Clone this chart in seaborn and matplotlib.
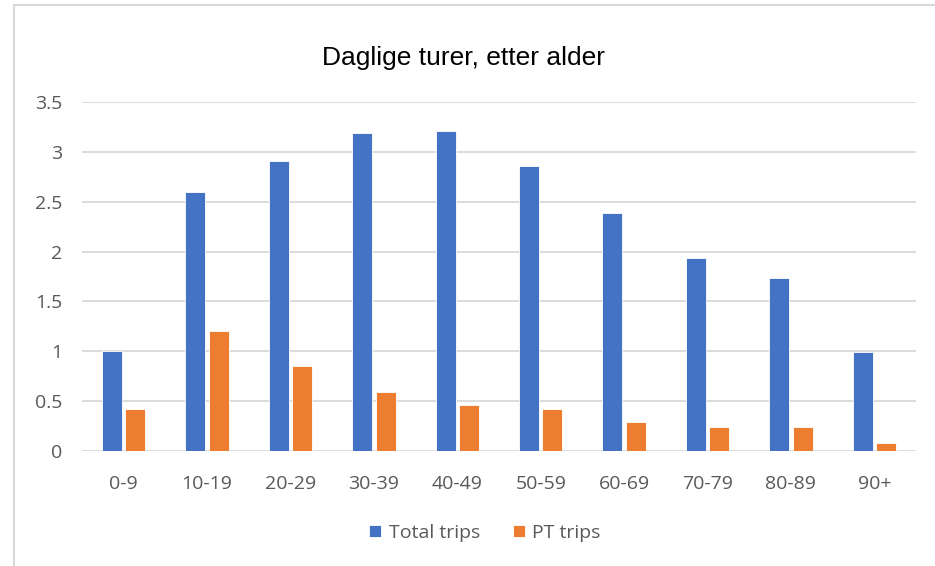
# Import Libraries
import pandas as pd
import matplotlib.pyplot as plt
import matplotlib.patches as mpatches
from matplotlib.ticker import FuncFormatter
import seaborn as sns

# Chart data
age_groups = ["0-9", "10-19", "20-29", "30-39", "40-49",
              "50-59", "60-69", "70-79", "80-89", "90+"]
total_trips = [1.0, 2.6, 2.91, 3.19, 3.21, 2.86, 2.39, 1.94, 1.73, 0.99]
pt_trips = [0.42, 1.2, 0.85, 0.59, 0.46, 0.42, 0.29, 0.24, 0.24, 0.08]
series_names = ["Total trips", "PT trips"]
colors = ["#4472C4", "#ED7D31"]

# Long format table for seaborn
df = pd.DataFrame({
    "age": age_groups * 2,
    "trips": total_trips + pt_trips,
    "series": [series_names[0]] * len(age_groups) + [series_names[1]] * len(age_groups),
})

sns.set_style("white")
plt.rcParams["font.family"] = ["Open Sans", "DejaVu Sans"]

fig = plt.figure(figsize=(9.35, 5.66), dpi=100)
ax = fig.add_axes([82 / 935, 1 - 451 / 566, (916 - 82) / 935, (451 - 102) / 566])

sns.barplot(
    data=df,
    x="age",
    y="trips",
    hue="series",
    palette=colors,
    saturation=1,
    width=0.56,
    gap=0.15,
    edgecolor="white",
    linewidth=0.6,
    ax=ax,
)

# Axes styling
ax.set_ylim(0, 3.5)
ax.set_yticks([0, 0.5, 1, 1.5, 2, 2.5, 3, 3.5])
ax.yaxis.set_major_formatter(FuncFormatter(lambda v, p: f"{v:g}"))
ax.grid(axis="y", color="#D9D9D9", linewidth=1.3)
ax.set_axisbelow(True)
for s in ax.spines.values():
    s.set_visible(False)
ax.set_xlabel("")
ax.set_ylabel("")
ax.tick_params(axis="both", length=0, labelsize=14, labelcolor="#595959")
ax.tick_params(axis="y", pad=14)
ax.tick_params(axis="x", pad=17)

# Title
fig.text(463 / 935, 1 - 58 / 566, "Daglige turer, etter alder",
         ha="center", va="center", fontsize=19,
         family=["Liberation Sans", "DejaVu Sans"], color="black")

# Legend
handles, labels = ax.get_legend_handles_labels()
ax.legend_.remove()
fig.legend(handles, labels, loc="center", bbox_to_anchor=(485 / 935, 1 - 533 / 566),
           ncol=2, frameon=False, fontsize=14, labelcolor="#595959",
           handlelength=0.6, handleheight=0.6, handletextpad=0.4, columnspacing=1.7)

# Chart border (cropped Excel chart frame)
fig.patches.append(mpatches.Rectangle(
    (14 / 935, -0.1), 1.2, 1 - 5 / 566 + 0.1,
    transform=fig.transFigure, fill=False, edgecolor="#D9D9D9", linewidth=1.5))

plt.savefig("out.png", dpi=100)
